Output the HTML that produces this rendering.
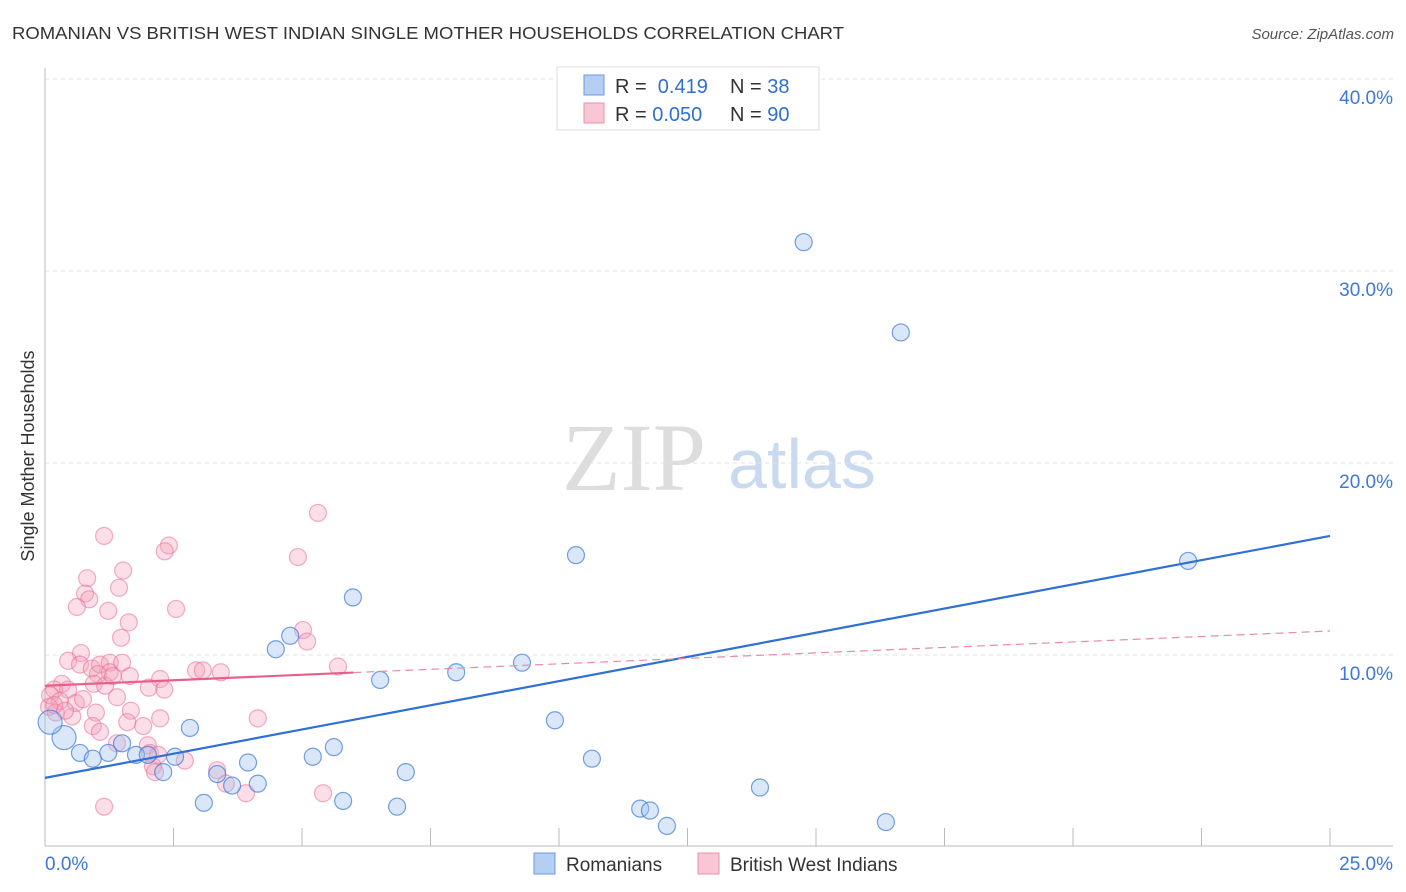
<!DOCTYPE html>
<html><head><meta charset="utf-8"><style>
body{margin:0;background:#fff;font-family:"Liberation Sans",sans-serif;}
svg{display:block}
</style></head><body>
<svg id="c" width="1406" height="892" xmlns="http://www.w3.org/2000/svg">
<text x="12" y="39" font-size="17.5" fill="#333" textLength="832" lengthAdjust="spacingAndGlyphs">ROMANIAN VS BRITISH WEST INDIAN SINGLE MOTHER HOUSEHOLDS CORRELATION CHART</text>
<text x="1394" y="39" font-size="15" fill="#555" font-style="italic" text-anchor="end">Source: ZipAtlas.com</text>
<text x="34" y="456" font-size="18" fill="#333" text-anchor="middle" transform="rotate(-90 34 456)">Single Mother Households</text>
<g><text x="634" y="490" font-size="96" fill="#ddd" font-family="Liberation Serif,serif" text-anchor="middle">ZIP</text><text x="802" y="488" font-size="70" fill="#c9daf0" text-anchor="middle">atlas</text></g>
<g id="grid"></g><g id="axes"></g><g id="pts"></g><g id="lines"></g>
<g>
<rect x="557" y="67" width="262" height="63" fill="#fff" stroke="#ddd"/>
<rect x="584" y="75" width="20" height="20" fill="#b5cff3" stroke="#6a9ae0"/>
<rect x="584" y="103" width="20" height="20" fill="#f8c6d5" stroke="#ee8fab"/>
<text x="615" y="93" font-size="20" fill="#333">R = <tspan fill="#2f6fd0">&#160;0.419</tspan><tspan x="730">N = </tspan><tspan fill="#2f6fd0">38</tspan></text>
<text x="615" y="121" font-size="20" fill="#333">R = <tspan fill="#2f6fd0">0.050</tspan><tspan x="730">N = </tspan><tspan fill="#2f6fd0">90</tspan></text>
</g>
<g>
<rect x="534" y="853" width="21" height="21" fill="#b5cff3" stroke="#6a9ae0"/>
<text x="566" y="871" font-size="19" fill="#333">Romanians</text>
<rect x="698" y="853" width="21" height="21" fill="#f8c6d5" stroke="#ee8fab"/>
<text x="730" y="871" font-size="19" fill="#333">British West Indians</text>
</g>
</svg>
<script>
const yTicks=[10,20,30,40];
const xTickLabels=["0.0%","25.0%"];
const blueX=[14.76,16.65,10.33,22.24,5.99,4.77,4.49,9.28,8.0,6.52,9.92,2.82,0.37,0.68,0.93,1.23,1.5,1.77,2.0,2.53,2.3,3.95,5.21,5.62,10.64,7.02,3.35,3.64,4.14,3.09,5.8,6.85,11.58,11.77,12.1,13.91,16.36,0.1];
const blueY=[31.5,26.8,15.2,14.9,13.0,11.0,10.3,9.6,9.1,8.7,6.6,6.2,5.7,4.9,4.6,4.9,5.4,4.8,4.8,4.7,3.9,4.4,4.7,5.2,4.6,3.9,3.8,3.2,3.3,2.3,2.4,2.1,2.0,1.9,1.1,3.1,1.3,6.5];
const pinkX=[1.15,5.31,2.41,2.33,4.92,1.52,0.82,1.44,0.78,0.86,0.62,1.23,2.55,1.63,5.02,5.1,1.48,0.7,0.45,0.68,0.91,1.07,1.26,1.5,1.03,1.26,1.65,2.24,2.94,3.07,3.42,5.7,0.95,1.17,2.02,2.32,0.33,0.18,0.45,0.1,0.29,0.08,0.21,0.53,0.6,1.4,0.99,1.67,2.24,4.14,1.6,0.93,1.07,1.91,1.4,2.0,2.04,2.2,2.72,2.1,2.14,3.35,3.52,3.91,1.15,5.41,0.18,0.39,0.74,1.32];
const pinkY=[16.2,17.4,15.7,15.4,15.1,14.4,14.0,13.5,13.2,12.9,12.5,12.3,12.4,11.7,11.3,10.7,10.9,10.1,9.7,9.5,9.3,9.5,9.6,9.6,9.0,9.1,8.9,8.75,9.2,9.2,9.1,9.4,8.5,8.4,8.3,8.2,8.5,8.2,8.2,7.9,7.6,7.3,7.0,6.8,7.5,7.8,7.0,7.1,6.7,6.7,6.5,6.3,6.0,6.3,5.4,5.3,4.9,4.8,4.5,4.2,3.9,4.0,3.3,2.8,2.1,2.8,7.4,7.1,7.7,8.9];
const blueFit=[3.6,16.2];
const pinkFit=[8.4,11.25];
const pinkSolidEnd=6.0;
const X0=45,X1=1330,Y0=847,PPU=19.2;
const sx=v=>X0+(v/25)*(X1-X0), sy=v=>Y0-v*PPU;
const NS="http://www.w3.org/2000/svg";
function mk(p,t,a){const e=document.createElementNS(NS,t);for(const k in a)e.setAttribute(k,a[k]);p.appendChild(e);return e;}
const grid=document.getElementById('grid'),axes=document.getElementById('axes'),pts=document.getElementById('pts'),lines=document.getElementById('lines');
mk(grid,'line',{x1:X0,x2:1393,y1:79,y2:79,stroke:'#ddd','stroke-dasharray':'4,4'});
yTicks.forEach(t=>{
 const g=mk(grid,'line',{x1:X0,x2:1393,y1:sy(t),y2:sy(t),stroke:'#e2e2e2','stroke-dasharray':'4,4'});
 
 
 const l=mk(axes,'text',{x:1393,y:sy(t)+25,'font-size':19,fill:'#3b78d8','text-anchor':'end'});
 l.textContent=t.toFixed(1)+'%';
 
 
});
mk(axes,'line',{x1:X0,x2:X0,y1:68,y2:846,stroke:'#bbb'});
mk(axes,'line',{x1:X0,x2:1393,y1:846,y2:846,stroke:'#bbb'});
for(let i=0;i<=10;i++){mk(axes,'line',{x1:sx(i*2.5),x2:sx(i*2.5),y1:828,y2:846,stroke:'#bbb'});}
const xl0=mk(axes,'text',{x:45,y:870,'font-size':19,fill:'#3b78d8'});xl0.textContent=xTickLabels[0];


const xl1=mk(axes,'text',{x:1393,y:870,'font-size':19,fill:'#3b78d8','text-anchor':'end'});xl1.textContent=xTickLabels[1];


pinkX.forEach((x,i)=>{
 const c=mk(pts,'circle',{cx:sx(x),cy:sy(pinkY[i]),r:8.5,fill:'rgba(244,160,185,0.35)',stroke:'rgba(232,110,150,0.55)','stroke-width':1.2});
 
 
});
blueX.forEach((x,i)=>{
 const r=(i==12||i==37)?12:8.5;
 const c=mk(pts,'circle',{cx:sx(x),cy:sy(blueY[i]),r:r,fill:'rgba(160,195,240,0.4)',stroke:'rgba(60,120,215,0.7)','stroke-width':1.2});
 
 
});
const pf=v=>pinkFit[0]+(pinkFit[1]-pinkFit[0])*v/25;
const bl=mk(lines,'line',{x1:sx(0),y1:sy(blueFit[0]),x2:sx(25),y2:sy(blueFit[1]),stroke:'#2f6fd6','stroke-width':2.2});


const pd=mk(lines,'line',{x1:sx(pinkSolidEnd),y1:sy(pf(pinkSolidEnd)),x2:sx(25),y2:sy(pinkFit[1]),stroke:'#e88aa8','stroke-width':1.2,'stroke-dasharray':'8,5'});


const ps=mk(lines,'line',{x1:sx(0),y1:sy(pinkFit[0]),x2:sx(pinkSolidEnd),y2:sy(pf(pinkSolidEnd)),stroke:'#e8608a','stroke-width':2.2});


</script>
</body></html>
